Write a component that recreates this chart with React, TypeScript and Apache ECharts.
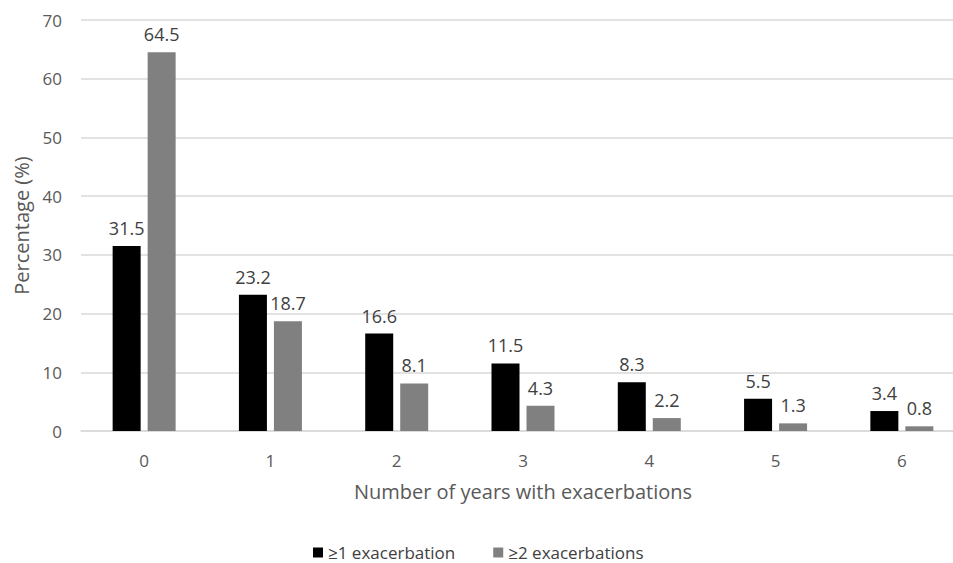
import React, { useEffect, useRef } from "react";
import * as echarts from "echarts";

const categories = ["0", "1", "2", "3", "4", "5", "6"];
const seriesNames = ["≥1 exacerbation", "≥2 exacerbations"];
const atLeastOne = [31.5, 23.2, 16.6, 11.5, 8.3, 5.5, 3.4];
const atLeastTwo = [64.5, 18.7, 8.1, 4.3, 2.2, 1.3, 0.8];

export default function App() {
  const ref = useRef<HTMLDivElement>(null);
  useEffect(() => {
    if (!ref.current) return;
    const chart = echarts.init(ref.current, undefined, { renderer: "svg" });
    const font = "'Open Sans', 'DejaVu Sans', sans-serif";
    const label = {
      show: true,
      position: "top",
      distance: 9,
      color: "#404040",
      fontSize: 18,
      fontFamily: font,
    };
    chart.setOption({
      animation: false,
      backgroundColor: "#ffffff",
      textStyle: { fontFamily: font },
      grid: { left: 81, right: 15, top: 20, bottom: 132, containLabel: false },
      legend: {
        left: 313,
        top: 543,
        padding: 0,
        icon: "rect",
        itemWidth: 10,
        itemHeight: 10,
        itemGap: 38,
        textStyle: { fontSize: 17, lineHeight: 19, color: "#404040", fontFamily: font },
        data: seriesNames,
      },
      xAxis: {
        type: "category",
        data: categories,
        name: "Number of years with exacerbations",
        nameLocation: "middle",
        nameGap: 50,
        nameTextStyle: { fontSize: 20, color: "#595959", fontFamily: font },
        axisLine: { lineStyle: { color: "#d9d9d9", width: 1.5 } },
        axisTick: { show: false },
        axisLabel: { color: "#595959", fontSize: 17, margin: 21, fontFamily: font },
      },
      yAxis: {
        type: "value",
        min: 0,
        max: 70,
        interval: 10,
        name: "Percentage (%)",
        nameLocation: "middle",
        nameGap: 48,
        nameTextStyle: { fontSize: 20, color: "#595959", fontFamily: font },
        axisLine: { show: false },
        axisTick: { show: false },
        axisLabel: { color: "#595959", fontSize: 17, margin: 19, fontFamily: font },
        splitLine: { lineStyle: { color: "#d9d9d9", width: 1.5 } },
      },
      series: [
        {
          name: seriesNames[0],
          type: "bar",
          data: atLeastOne,
          barWidth: 28,
          barGap: "25%",
          itemStyle: { color: "#000000" },
          label,
        },
        {
          name: seriesNames[1],
          type: "bar",
          data: atLeastTwo,
          barWidth: 28,
          barGap: "25%",
          itemStyle: { color: "#808080" },
          label,
        },
      ],
    });
    return () => chart.dispose();
  }, []);
  return (
    <div
      style={{
        position: "fixed",
        top: 0,
        left: 0,
        width: 953,
        height: 563,
        overflow: "hidden",
        background: "#fff",
      }}
    >
      <div ref={ref} style={{ width: 980, height: 563 }} />
    </div>
  );
}
